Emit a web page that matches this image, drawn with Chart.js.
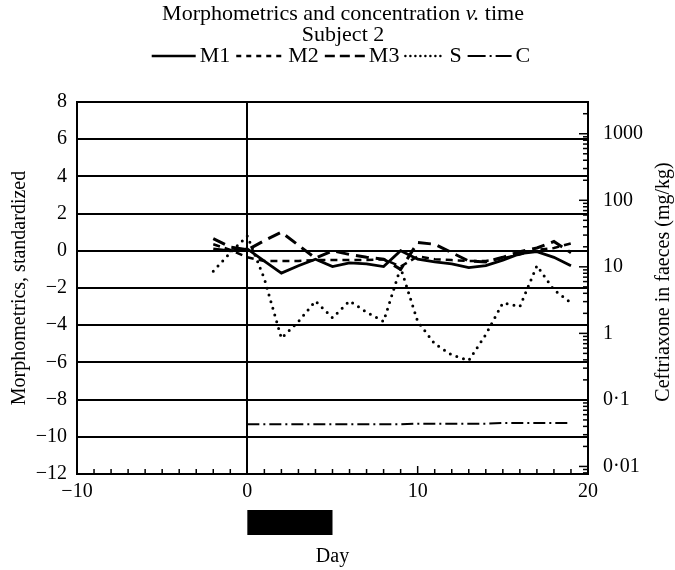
<!DOCTYPE html>
<html>
<head>
<meta charset="utf-8">
<script src="https://cdn.jsdelivr.net/npm/chart.js@4"></script>
<style>
  html, body { margin: 0; padding: 0; background: #fff; }
  #wrap { width: 675px; height: 570px; }
</style>
</head>
<body>
<div id="wrap"><canvas id="chart" width="675" height="570"></canvas></div>
<script>
// data
const days = [-2, -1, 0, 1, 2, 3, 4, 5, 6, 7, 8, 9, 10, 11, 12, 13, 14, 15, 16, 17, 18, 19];
const m1 = [0.1, 0.0, 0.1, -0.55, -1.2, -0.8, -0.45, -0.85, -0.65, -0.7, -0.85, 0.0, -0.45, -0.6, -0.7, -0.9, -0.8, -0.5, -0.15, -0.05, -0.35, -0.8];
const m2 = [0.35, 0.05, -0.35, -0.55, -0.55, -0.55, -0.5, -0.5, -0.5, -0.5, -0.45, -0.85, -0.3, -0.45, -0.5, -0.55, -0.55, -0.4, -0.2, 0.05, 0.15, 0.4];
const m3 = [0.65, 0.2, 0.05, 0.55, 1.0, 0.3, -0.4, 0.0, -0.2, -0.35, -0.45, -1.0, 0.45, 0.35, -0.1, -0.55, -0.6, -0.35, -0.05, 0.15, 0.5, -0.1];
const s = [-1.1, -0.1, 0.8, -1.5, -4.7, -3.8, -2.7, -3.6, -2.7, -3.3, -3.8, -0.9, -3.8, -5.0, -5.6, -5.9, -4.5, -2.8, -3.0, -0.8, -2.1, -2.8];
const cDays = [0, 1, 2, 3, 4, 5, 6, 7, 8, 9, 10, 11, 12, 13, 14, 15, 16, 17, 18, 19];
const conc = [0.043, 0.043, 0.043, 0.043, 0.043, 0.043, 0.043, 0.043, 0.043, 0.043, 0.044, 0.044, 0.044, 0.044, 0.044, 0.045, 0.045, 0.045, 0.045, 0.045];

const dayTicks = [-10, 0, 10, 20];
const concTicks = [0.01, 0.1, 1, 10, 100, 1000];
const concTickLabels = ['0·01', '0·1', '1', '10', '100', '1000'];
const dosing = [0, 5];

const FONT = "'Liberation Serif', 'Times New Roman', serif";
Chart.defaults.font.family = FONT;
Chart.defaults.font.size = 20;
Chart.defaults.color = '#000';

function minus(v) {
  return v < 0 ? '\u2212' + Math.abs(v) : String(v);
}

function pts(xs, ys) {
  return xs.map((d, i) => ({x: d, y: ys[i]}));
}

// title, legend, treatment bar, inward ticks, right axis title
const paperPlugin = {
  id: 'paper',
  afterDraw(chart) {
    const ctx = chart.ctx;
    const area = chart.chartArea;
    const xs = chart.scales.x;
    const yr = chart.scales.y2;
    ctx.save();
    ctx.fillStyle = '#000';
    ctx.strokeStyle = '#000';
    ctx.textBaseline = 'middle';

    // title with italic v.
    const cx = 343;
    const normal = '22px ' + FONT;
    const italic = 'italic 22px ' + FONT;
    const a = 'Morphometrics and concentration ', b = 'v.', c = ' time';
    ctx.font = normal;
    const wa = ctx.measureText(a).width, wc = ctx.measureText(c).width;
    ctx.font = italic;
    const wb = ctx.measureText(b).width;
    let tx = cx - (wa + wb + wc) / 2;
    ctx.textAlign = 'left';
    ctx.font = normal; ctx.fillText(a, tx, 14); tx += wa;
    ctx.font = italic; ctx.fillText(b, tx, 14); tx += wb;
    ctx.font = normal; ctx.fillText(c, tx, 14);
    ctx.textAlign = 'center';
    ctx.fillText('Subject 2', cx, 35);

    // legend
    const lineW = [44, 48, 40, 40, 44];
    const sets = chart.data.datasets;
    ctx.font = normal;
    let total = 0;
    sets.forEach((ds, i) => { total += lineW[i] + 4 + ctx.measureText(ds.label).width + (i < sets.length - 1 ? 6 : 0); });
    let lx = cx - 2 - total / 2;
    const ly = 56;
    ctx.textAlign = 'left';
    sets.forEach((ds, i) => {
      ctx.save();
      ctx.lineWidth = Math.min(ds.borderWidth, 2.5);
      ctx.setLineDash(ds.legendDash || ds.borderDash || []);
      ctx.lineCap = ds.borderCapStyle || 'butt';
      ctx.beginPath();
      ctx.moveTo(lx, ly);
      ctx.lineTo(lx + lineW[i], ly);
      ctx.stroke();
      ctx.restore();
      lx += lineW[i] + 4;
      ctx.fillText(ds.label, lx, ly);
      lx += ctx.measureText(ds.label).width + 6;
    });

    // treatment bar under the day axis
    const b0 = xs.getPixelForValue(dosing[0]);
    const b1 = xs.getPixelForValue(dosing[1]);
    ctx.fillRect(b0, 510, b1 - b0, 25);

    // inward day ticks
    ctx.lineWidth = 1.5;
    for (let d = xs.min + 1; d < xs.max; d++) {
      if (d === 0) continue;
      const px = xs.getPixelForValue(d);
      const len = d % 10 === 0 ? 8 : 5;
      ctx.beginPath();
      ctx.moveTo(px, area.bottom);
      ctx.lineTo(px, area.bottom - len);
      ctx.stroke();
    }

    // inward log ticks on the right axis
    for (let e = -3; e <= 3; e++) {
      for (let k = 1; k <= 9; k++) {
        const v = k * Math.pow(10, e);
        if (v <= yr.min || v >= yr.max) continue;
        const py = yr.getPixelForValue(v);
        const len = k === 1 ? 9 : 5;
        ctx.beginPath();
        ctx.moveTo(area.right, py);
        ctx.lineTo(area.right - len, py);
        ctx.stroke();
      }
    }

    // right axis title, reading upwards
    ctx.save();
    ctx.font = '20px ' + FONT;
    ctx.textAlign = 'center';
    ctx.translate(664, (area.top + area.bottom) / 2 - 6);
    ctx.rotate(-Math.PI / 2);
    ctx.fillText('Ceftriaxone in faeces (mg/kg)', 0, 0);
    ctx.restore();

    ctx.restore();
  }
};

const ctx = document.getElementById('chart').getContext('2d');
const chart = new Chart(ctx, {
  type: 'line',
  data: {
    datasets: [
      {label: 'M1', data: pts(days, m1), yAxisID: 'y', borderColor: '#000', borderWidth: 2.8, pointRadius: 0},
      {label: 'M2', data: pts(days, m2), yAxisID: 'y', borderColor: '#000', borderWidth: 2.5, borderDash: [7, 5], legendDash: [5, 5], pointRadius: 0},
      {label: 'M3', data: pts(days, m3), yAxisID: 'y', borderColor: '#000', borderWidth: 3, borderDash: [13, 7], legendDash: [10, 5], pointRadius: 0},
      {label: 'S', data: pts(days, s), yAxisID: 'y', borderColor: '#000', borderWidth: 3, borderDash: [0, 7], borderCapStyle: 'round', legendDash: [0, 5], pointRadius: 0},
      {label: 'C', data: pts(cDays, conc), yAxisID: 'y2', borderColor: '#000', borderWidth: 2, borderDash: [12, 4, 2, 4], legendDash: [18, 4, 2, 4], pointRadius: 0}
    ]
  },
  options: {
    responsive: false,
    animation: false,
    devicePixelRatio: 1,
    layout: {padding: {top: 102, left: 0, right: 0, bottom: 0}},
    plugins: {
      legend: {display: false},
      title: {display: false},
      tooltip: {enabled: false}
    },
    scales: {
      x: {
        type: 'linear',
        min: -10,
        max: 20,
        afterBuildTicks: sc => { sc.ticks = dayTicks.map(v => ({value: v})); },
        afterFit: sc => { sc.height = 96; },
        ticks: {callback: v => minus(v), padding: 6, maxRotation: 0, autoSkip: false},
        grid: {
          drawTicks: false,
          lineWidth: 2,
          color: c => (c.tick && c.tick.value === 10 ? 'rgba(0,0,0,0)' : '#000')
        },
        border: {display: true, color: '#000', width: 2},
        title: {display: true, text: 'Day', padding: {top: 0, bottom: 1}}
      },
      y: {
        type: 'linear',
        position: 'left',
        min: -12,
        max: 8,
        afterFit: sc => { sc.width = 77; },
        ticks: {stepSize: 2, callback: v => minus(v), padding: 10},
        grid: {drawTicks: false, lineWidth: 2, color: '#000'},
        border: {display: true, color: '#000', width: 2},
        title: {display: true, text: 'Morphometrics, standardized', padding: {top: 8, bottom: 0}}
      },
      y2: {
        type: 'logarithmic',
        position: 'right',
        min: 0.0077,
        max: 3000,
        afterBuildTicks: sc => { sc.ticks = concTicks.map(v => ({value: v})); },
        afterFit: sc => { sc.width = 87; },
        ticks: {callback: v => concTickLabels[concTicks.indexOf(v)], padding: 15},
        grid: {drawOnChartArea: false, drawTicks: false},
        border: {display: true, color: '#000', width: 2},
        title: {display: false}
      }
    }
  },
  plugins: [paperPlugin]
});
</script>
</body>
</html>
